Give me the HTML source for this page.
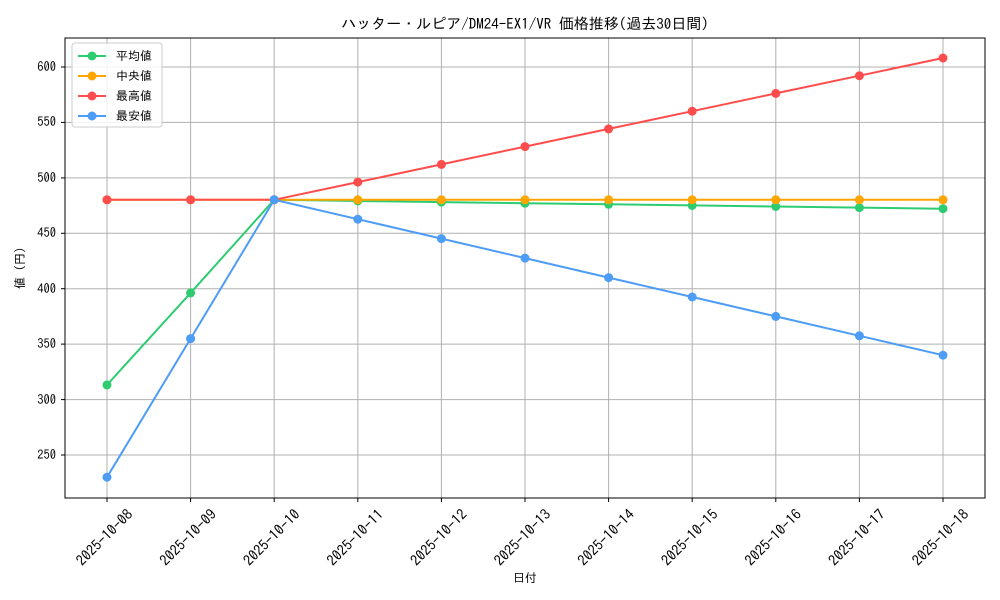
<!DOCTYPE html>
<html><head><meta charset="utf-8"><style>body{margin:0;background:#fff}svg{display:block}text{font-family:"IPAGothic","Liberation Sans","Noto Sans CJK JP",sans-serif;fill:#000}</style></head>
<body>
<svg width="1000" height="600" xmlns="http://www.w3.org/2000/svg">
<rect width="1000" height="600" fill="#fff"/>
<text x="525" y="29" font-size="15" text-anchor="middle">ハッター・ルピア/DM24-EX1/VR 価格推移(過去30日間)</text>
<g stroke="#b0b0b0" stroke-width="1">
<line x1="107" y1="38" x2="107" y2="498"/><line x1="190.6" y1="38" x2="190.6" y2="498"/><line x1="274.2" y1="38" x2="274.2" y2="498"/><line x1="357.8" y1="38" x2="357.8" y2="498"/><line x1="441.4" y1="38" x2="441.4" y2="498"/><line x1="525" y1="38" x2="525" y2="498"/><line x1="608.6" y1="38" x2="608.6" y2="498"/><line x1="692.2" y1="38" x2="692.2" y2="498"/><line x1="775.8" y1="38" x2="775.8" y2="498"/><line x1="859.4" y1="38" x2="859.4" y2="498"/><line x1="943" y1="38" x2="943" y2="498"/>
<line x1="65" y1="455" x2="985" y2="455"/><line x1="65" y1="399.6" x2="985" y2="399.6"/><line x1="65" y1="344.1" x2="985" y2="344.1"/><line x1="65" y1="288.7" x2="985" y2="288.7"/><line x1="65" y1="233.3" x2="985" y2="233.3"/><line x1="65" y1="177.9" x2="985" y2="177.9"/><line x1="65" y1="122.4" x2="985" y2="122.4"/><line x1="65" y1="67" x2="985" y2="67"/>
</g>
<rect x="65" y="38" width="920" height="460" fill="none" stroke="#000" stroke-width="1"/>
<g font-size="12.5" text-anchor="end">
<text x="56" y="459">250</text><text x="56" y="404">300</text><text x="56" y="348">350</text><text x="56" y="293">400</text><text x="56" y="237">450</text><text x="56" y="182">500</text><text x="56" y="126">550</text><text x="56" y="71">600</text>
</g>
<g stroke="#000"><line x1="61" y1="455" x2="65" y2="455"/><line x1="61" y1="399.6" x2="65" y2="399.6"/><line x1="61" y1="344.1" x2="65" y2="344.1"/><line x1="61" y1="288.7" x2="65" y2="288.7"/><line x1="61" y1="233.3" x2="65" y2="233.3"/><line x1="61" y1="177.9" x2="65" y2="177.9"/><line x1="61" y1="122.4" x2="65" y2="122.4"/><line x1="61" y1="67" x2="65" y2="67"/>
<line x1="107" y1="498" x2="107" y2="502"/><line x1="190.6" y1="498" x2="190.6" y2="502"/><line x1="274.2" y1="498" x2="274.2" y2="502"/><line x1="357.8" y1="498" x2="357.8" y2="502"/><line x1="441.4" y1="498" x2="441.4" y2="502"/><line x1="525" y1="498" x2="525" y2="502"/><line x1="608.6" y1="498" x2="608.6" y2="502"/><line x1="692.2" y1="498" x2="692.2" y2="502"/><line x1="775.8" y1="498" x2="775.8" y2="502"/><line x1="859.4" y1="498" x2="859.4" y2="502"/><line x1="943" y1="498" x2="943" y2="502"/></g>
<g font-size="14.5" text-anchor="middle">
<text transform="translate(108,541) rotate(-45)">2025-10-08</text><text transform="translate(191.6,541) rotate(-45)">2025-10-09</text><text transform="translate(275.2,541) rotate(-45)">2025-10-10</text><text transform="translate(358.8,541) rotate(-45)">2025-10-11</text><text transform="translate(442.4,541) rotate(-45)">2025-10-12</text><text transform="translate(526,541) rotate(-45)">2025-10-13</text><text transform="translate(609.6,541) rotate(-45)">2025-10-14</text><text transform="translate(693.2,541) rotate(-45)">2025-10-15</text><text transform="translate(776.8,541) rotate(-45)">2025-10-16</text><text transform="translate(860.4,541) rotate(-45)">2025-10-17</text><text transform="translate(944,541) rotate(-45)">2025-10-18</text>
</g>
<text x="525" y="582" font-size="12" text-anchor="middle">日付</text>
<text transform="translate(24,268) rotate(-90)" font-size="12" text-anchor="middle">値 (円)</text>
<g fill="none" stroke-width="2">
<polyline stroke="#2ecc71" points="107,384.9 190.6,292.9 274.2,199.8 357.8,201 441.4,202.1 525,203.2 608.6,204.3 692.2,205.4 775.8,206.5 859.4,207.6 943,208.7"/>
<polyline stroke="#ffa500" points="107,199.8 190.6,199.8 274.2,199.8 357.8,199.8 441.4,199.8 525,199.8 608.6,199.8 692.2,199.8 775.8,199.8 859.4,199.8 943,199.8"/>
<polyline stroke="#ff4d4d" points="107,199.8 190.6,199.8 274.2,199.8 357.8,182.1 441.4,164.4 525,146.6 608.6,128.9 692.2,111.2 775.8,93.4 859.4,75.7 943,58"/>
<polyline stroke="#4d9cf5" points="107,477.2 190.6,338.6 274.2,199.8 357.8,219.2 441.4,238.6 525,258.1 608.6,277.6 692.2,297 775.8,316.4 859.4,335.8 943,355.2"/>
</g>
<g fill="#2ecc71"><circle cx="107" cy="384.9" r="4.5"/><circle cx="190.6" cy="292.9" r="4.5"/><circle cx="274.2" cy="199.8" r="4.5"/><circle cx="357.8" cy="201" r="4.5"/><circle cx="441.4" cy="202.1" r="4.5"/><circle cx="525" cy="203.2" r="4.5"/><circle cx="608.6" cy="204.3" r="4.5"/><circle cx="692.2" cy="205.4" r="4.5"/><circle cx="775.8" cy="206.5" r="4.5"/><circle cx="859.4" cy="207.6" r="4.5"/><circle cx="943" cy="208.7" r="4.5"/></g>
<g fill="#ffa500"><circle cx="107" cy="199.8" r="4.5"/><circle cx="190.6" cy="199.8" r="4.5"/><circle cx="274.2" cy="199.8" r="4.5"/><circle cx="357.8" cy="199.8" r="4.5"/><circle cx="441.4" cy="199.8" r="4.5"/><circle cx="525" cy="199.8" r="4.5"/><circle cx="608.6" cy="199.8" r="4.5"/><circle cx="692.2" cy="199.8" r="4.5"/><circle cx="775.8" cy="199.8" r="4.5"/><circle cx="859.4" cy="199.8" r="4.5"/><circle cx="943" cy="199.8" r="4.5"/></g>
<g fill="#ff4d4d"><circle cx="107" cy="199.8" r="4.5"/><circle cx="190.6" cy="199.8" r="4.5"/><circle cx="274.2" cy="199.8" r="4.5"/><circle cx="357.8" cy="182.1" r="4.5"/><circle cx="441.4" cy="164.4" r="4.5"/><circle cx="525" cy="146.6" r="4.5"/><circle cx="608.6" cy="128.9" r="4.5"/><circle cx="692.2" cy="111.2" r="4.5"/><circle cx="775.8" cy="93.4" r="4.5"/><circle cx="859.4" cy="75.7" r="4.5"/><circle cx="943" cy="58" r="4.5"/></g>
<g fill="#4d9cf5"><circle cx="107" cy="477.2" r="4.5"/><circle cx="190.6" cy="338.6" r="4.5"/><circle cx="274.2" cy="199.8" r="4.5"/><circle cx="357.8" cy="219.2" r="4.5"/><circle cx="441.4" cy="238.6" r="4.5"/><circle cx="525" cy="258.1" r="4.5"/><circle cx="608.6" cy="277.6" r="4.5"/><circle cx="692.2" cy="297" r="4.5"/><circle cx="775.8" cy="316.4" r="4.5"/><circle cx="859.4" cy="335.8" r="4.5"/><circle cx="943" cy="355.2" r="4.5"/></g>
<rect x="72" y="43" width="90" height="84" rx="3" fill="#fff" fill-opacity="0.85" stroke="#ccc"/>
<g stroke-width="2"><line x1="78" y1="56" x2="106" y2="56" stroke="#2ecc71"/><line x1="78" y1="76" x2="106" y2="76" stroke="#ffa500"/><line x1="78" y1="96" x2="106" y2="96" stroke="#ff4d4d"/><line x1="78" y1="116" x2="106" y2="116" stroke="#4d9cf5"/></g>
<circle cx="92" cy="56" r="4.5" fill="#2ecc71"/><circle cx="92" cy="76" r="4.5" fill="#ffa500"/><circle cx="92" cy="96" r="4.5" fill="#ff4d4d"/><circle cx="92" cy="116" r="4.5" fill="#4d9cf5"/>
<g font-size="12"><text x="116" y="60">平均値</text><text x="116" y="80">中央値</text><text x="116" y="100">最高値</text><text x="116" y="120">最安値</text></g>
</svg>
</body></html>
